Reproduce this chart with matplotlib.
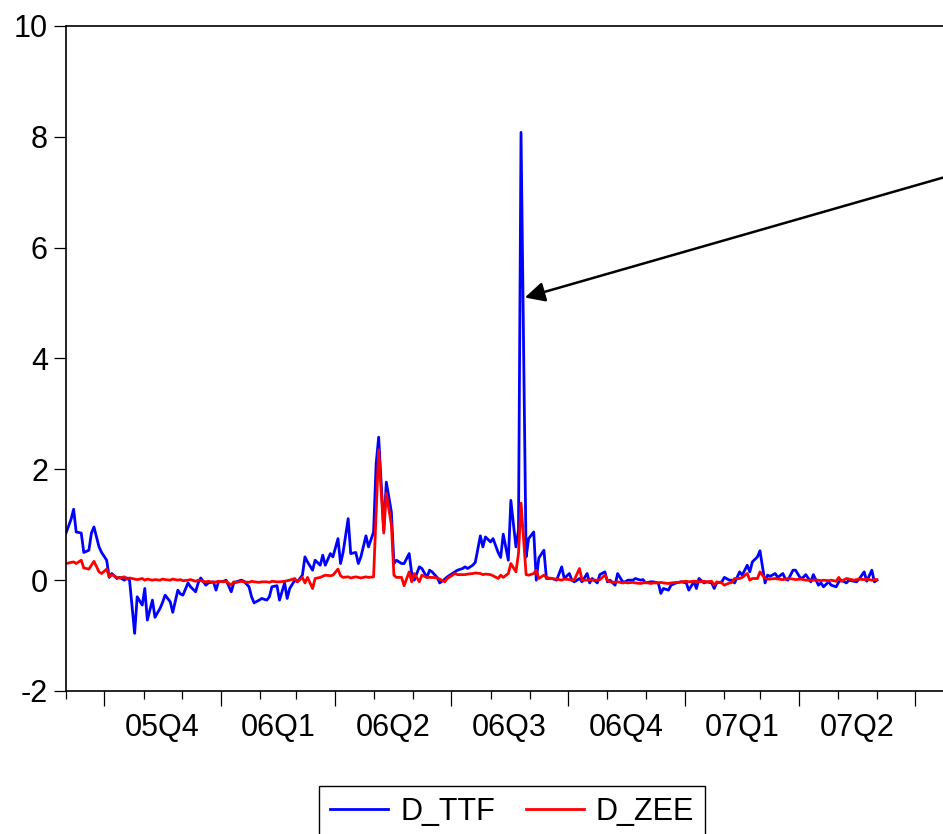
import pandas as pd
import matplotlib
matplotlib.use('Agg')
import matplotlib.pyplot as plt
import matplotlib.dates as mdates

plt.rcParams['font.family'] = ['Liberation Sans', 'DejaVu Sans']
plt.rcParams['axes.unicode_minus'] = False

# observacoes a cada 2 dias uteis, set/2005 a mai/2007
datas = pd.date_range('2005-09-01', periods=229, freq='2B')

d_ttf = [
    0.85, 1.10, 1.28, 0.87, 0.85, 0.50, 0.54, 0.85, 0.96, 0.60,
    0.50, 0.36, 0.05, 0.12, 0.03, 0.05, 0.00, 0.04, 0.00, -0.96,
    -0.30, -0.45, -0.15, -0.72, -0.36, -0.67, -0.51, -0.40, -0.27, -0.39,
    -0.58, -0.18, -0.25, -0.27, -0.05, -0.12, -0.21, -0.05, 0.04, -0.09,
    -0.05, -0.03, -0.18, -0.03, -0.02, 0.00, -0.21, -0.05, -0.03, 0.00,
    -0.02, -0.12, -0.30, -0.41, -0.36, -0.33, -0.36, -0.30, -0.12, -0.10,
    -0.36, -0.05, -0.33, -0.15, 0.00, -0.03, 0.09, 0.42, 0.33, 0.18,
    0.36, 0.27, 0.45, 0.27, 0.48, 0.42, 0.75, 0.30, 0.50, 1.11,
    0.48, 0.50, 0.30, 0.42, 0.80, 0.60, 0.87, 2.10, 2.58, 0.90,
    1.77, 1.23, 0.30, 0.36, 0.30, 0.30, 0.48, 0.12, 0.00, 0.24,
    0.21, 0.05, 0.18, 0.15, 0.05, -0.05, 0.02, 0.06, 0.09, 0.15,
    0.18, 0.21, 0.24, 0.21, 0.27, 0.32, 0.80, 0.60, 0.78, 0.69,
    0.75, 0.50, 0.41, 0.83, 0.36, 1.44, 0.60, 0.90, 8.08, 0.42,
    0.75, 0.87, 0.00, 0.40, 0.54, 0.03, 0.03, 0.02, 0.00, 0.24,
    0.03, 0.12, 0.00, -0.03, 0.03, -0.03, 0.12, -0.05, 0.03, -0.05,
    0.10, 0.15, -0.03, 0.00, -0.09, 0.12, -0.03, -0.03, 0.00, 0.00,
    0.03, 0.00, 0.01, -0.05, -0.03, -0.03, -0.05, -0.24, -0.15, -0.18,
    -0.09, -0.05, -0.04, -0.03, -0.05, -0.18, -0.03, -0.15, 0.03, -0.05,
    -0.03, -0.05, -0.15, -0.05, -0.03, 0.05, 0.00, 0.00, -0.05, 0.15,
    0.09, 0.27, 0.15, 0.33, 0.42, 0.53, -0.05, 0.09, 0.07, 0.12,
    0.05, 0.12, 0.02, 0.00, 0.18, 0.18, 0.03, 0.05, 0.10, -0.03,
    0.10, -0.09, -0.05, -0.12, -0.03, -0.09, -0.12, -0.03, 0.00, -0.05,
    0.00, -0.02, -0.03, 0.02, 0.15, -0.02, 0.18, -0.03, 0.00,
]

d_zee = [
    0.30, 0.32, 0.33, 0.30, 0.36, 0.22, 0.20, 0.27, 0.34, 0.15,
    0.12, 0.20, 0.06, 0.10, 0.05, 0.04, 0.06, 0.02, 0.04, 0.02,
    0.01, 0.03, 0.00, 0.02, 0.00, 0.01, 0.00, 0.02, 0.01, 0.00,
    0.02, 0.00, 0.01, -0.01, 0.00, 0.01, -0.02, 0.00, -0.01, -0.03,
    -0.02, -0.04, -0.03, -0.02, -0.03, -0.02, -0.09, -0.03, -0.04, -0.02,
    -0.03, -0.04, -0.02, -0.03, -0.04, -0.03, -0.03, -0.04, -0.02, -0.03,
    -0.03, -0.02, -0.01, 0.00, 0.03, -0.03, 0.05, -0.05, 0.05, -0.15,
    0.03, 0.05, 0.07, 0.09, 0.08, 0.09, 0.20, 0.08, 0.05, 0.06,
    0.04, 0.06, 0.05, 0.04, 0.06, 0.05, 0.06, 1.20, 2.35, 0.85,
    1.57, 1.00, 0.09, 0.05, 0.05, -0.10, 0.15, -0.03, 0.12, -0.03,
    0.09, 0.05, 0.05, 0.05, 0.04, 0.02, -0.03, 0.03, 0.06, 0.12,
    0.10, 0.10, 0.10, 0.11, 0.12, 0.13, 0.12, 0.10, 0.11, 0.10,
    0.08, 0.03, 0.09, 0.05, 0.12, 0.30, 0.15, 0.48, 1.39, 0.10,
    0.09, 0.12, 0.18, 0.03, 0.09, 0.05, 0.03, 0.02, 0.02, 0.00,
    0.02, 0.01, 0.00, 0.01, 0.21, 0.00, 0.00, 0.01, 0.00, 0.00,
    0.01, 0.09, 0.00, -0.03, -0.04, -0.03, -0.05, -0.04, -0.05, -0.04,
    -0.05, -0.06, -0.05, -0.04, -0.06, -0.05, -0.05, -0.04, -0.05, -0.06,
    -0.05, -0.04, -0.04, -0.03, -0.02, -0.03, -0.02, -0.02, -0.03, -0.02,
    -0.03, -0.02, -0.09, -0.03, -0.05, -0.09, -0.05, -0.04, 0.03, 0.03,
    0.05, 0.12, 0.00, 0.03, 0.03, 0.15, 0.03, 0.02, 0.02, 0.03,
    0.02, 0.01, 0.02, 0.03, 0.02, 0.01, 0.02, 0.01, 0.00, 0.00,
    0.00, 0.00, -0.01, 0.00, -0.01, 0.00, -0.02, 0.05, -0.02, 0.03,
    0.02, 0.00, 0.01, 0.02, 0.01, 0.02, 0.00, 0.01, 0.01,
]

trimestres = ['05Q4', '06Q1', '06Q2', '06Q3', '06Q4', '07Q1', '07Q2']

df = pd.DataFrame({'D_TTF': d_ttf, 'D_ZEE': d_zee}, index=datas)

fig = plt.figure(figsize=(9.43, 8.34), dpi=100)
ax = fig.add_axes([66 / 943, 1 - 691 / 834, 1 - 66 / 943, (691 - 26) / 834])

ax.plot(df.index, df['D_TTF'], color='#0000FF', lw=2.0, label='D_TTF')
ax.plot(df.index, df['D_ZEE'], color='#FF0000', lw=2.0, label='D_ZEE')

ax.set_xlim(pd.Timestamp('2005-09-01'), pd.Timestamp('2007-07-23'))
ax.set_ylim(-2, 10)
ax.set_yticks(range(-2, 11, 2))

for lado in ['left', 'top', 'bottom']:
    ax.spines[lado].set_linewidth(1.2)
ax.spines['right'].set_visible(False)

# ticks trimestrais (longos) e mensais (curtos)
inicio_tri = pd.date_range('2005-10-01', '2007-07-01', freq='QS')
ax.set_xticks(mdates.date2num(inicio_tri))
ax.set_xticks(mdates.date2num(pd.date_range('2005-09-01', '2007-07-01', freq='MS')), minor=True)
ax.tick_params(axis='x', which='major', length=11, width=0.9, labelbottom=False)
ax.tick_params(axis='x', which='minor', length=6, width=0.9)
ax.tick_params(axis='y', length=9, width=0.9, pad=4, labelsize=22)

# rotulos no meio de cada trimestre
meios = inicio_tri[:-1] + (inicio_tri[1:] - inicio_tri[:-1]) / 2
sec = ax.secondary_xaxis('bottom')
sec.set_xticks(mdates.date2num(meios), trimestres)
sec.tick_params(length=0, pad=16, labelsize=22)
sec.spines['bottom'].set_visible(False)

ax.annotate('', xy=(pd.Timestamp('2006-08-28'), 5.1),
            xytext=(pd.Timestamp('2007-08-05'), 7.35),
            arrowprops=dict(arrowstyle='-|>', color='black', lw=1.8,
                            mutation_scale=30, shrinkA=0, shrinkB=0),
            annotation_clip=False)

leg = fig.legend(loc='upper center', bbox_to_anchor=(0.543, 1 - 786 / 834), ncol=2,
                 fontsize=22, fancybox=False, edgecolor='black', framealpha=1,
                 borderaxespad=0, handlelength=1.9, handletextpad=0.4,
                 columnspacing=1.0, borderpad=0.35)
leg.get_frame().set_linewidth(1.0)

plt.savefig('out.png', dpi=100)
